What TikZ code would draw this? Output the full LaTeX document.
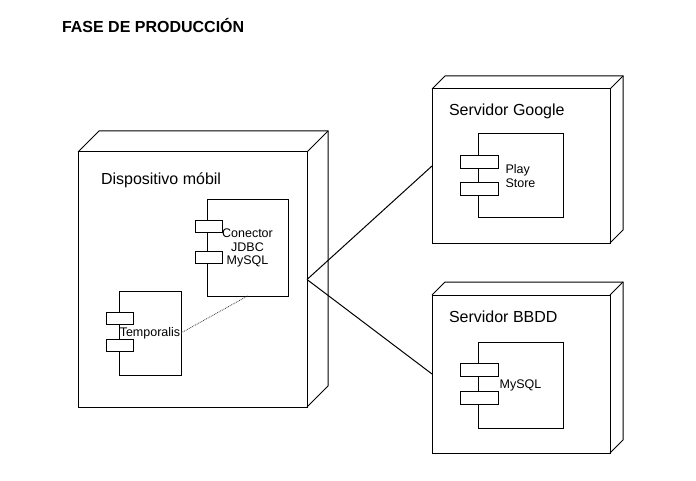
\documentclass[tikz,border=0pt]{standalone}
\usepackage{fontspec}
\setmainfont{Liberation Sans}
\begin{document}
\begin{tikzpicture}[x=1pt,y=-1pt,inner sep=0pt,outer sep=0pt,line width=1pt,
devbox/.style={draw,rectangle,inner sep=0pt},
compbox/.style={draw,rectangle,inner sep=0pt,font=\fontsize{12.5}{13.8}\selectfont},
comptab/.style={draw,rectangle,fill=white,minimum height=12pt},
devlabel/.style={anchor=base west,font=\fontsize{16}{18}\selectfont}]

\useasboundingbox (0,0) rectangle (696,481);

%%% Title
\draw (62,33) node[anchor=base west,font=\fontsize{16}{18}\selectfont\bfseries] (title) {FASE DE PRODUCCIÓN};

%%%%% Deployment nodes (front faces) %%%%%
\draw (192.5,279.5) node[devbox,minimum width=229pt,minimum height=255pt] (dev) {};
\draw (521,166) node[devbox,minimum width=178pt,minimum height=154pt] (goo) {};
\draw (521,374) node[devbox,minimum width=178pt,minimum height=158pt] (bbdd) {};

	%%% Depth of each node
	\foreach \n/\d in {dev/21,goo/13,bbdd/13}{
	\draw (\n.north west) -- ++(\d,-\d) -- ([shift={(\d,-\d)}]\n.north east)
		-- ([shift={(\d,-\d)}]\n.south east) -- (\n.south east);
	\draw (\n.north east) -- ++(\d,-\d);
	}

	%%% Node names
	\draw (101,185) node[devlabel] (devlbl) {Dispositivo móbil};
	\draw (449,116) node[devlabel] (goolbl) {Servidor Google};
	\draw (449,322) node[devlabel] (bbddlbl) {Servidor BBDD};
%%%%%%%%%%%%%%%%%%%%%%%%%

%%% Components
\draw (247.5,248) node[compbox,minimum width=81pt,minimum height=96pt,align=center] (jdbc) {Conector\\JDBC\\MySQL};
\draw (150,333) node[compbox,minimum width=62pt,minimum height=84pt] (temp) {Temporalis};
\draw (520.5,176) node[compbox,minimum width=85pt,minimum height=84pt,align=left] (play) {Play\\Store};
\draw (520.5,385) node[compbox,minimum width=85pt,minimum height=86pt] (mysql) {MySQL};

	%%% Small tabs on the left side
	\draw ([shift={(1.5,27)}]jdbc.north west) node[comptab,minimum width=27pt] (jdbct1) {};
	\draw ([shift={(1.5,57)}]jdbc.north west) node[comptab,minimum width=27pt] (jdbct2) {};
	\draw ([shift={(0.5,27)}]temp.north west) node[comptab,minimum width=27pt] (tempt1) {};
	\draw ([shift={(0.5,54)}]temp.north west) node[comptab,minimum width=27pt] (tempt2) {};
	\draw ([shift={(1,28.5)}]play.north west) node[comptab,minimum width=38pt,minimum height=13pt] (playt1) {};
	\draw ([shift={(1,55.5)}]play.north west) node[comptab,minimum width=38pt,minimum height=13pt] (playt2) {};
	\draw ([shift={(1,28)}]mysql.north west) node[comptab,minimum width=38pt,minimum height=13pt] (mysqlt1) {};
	\draw ([shift={(1,56)}]mysql.north west) node[comptab,minimum width=38pt,minimum height=13pt] (mysqlt2) {};

%%% Connections
\draw (dev.east) -- (goo.west);
\draw (dev.east) -- (bbdd.west);
\draw[densely dotted,line width=0.8pt,black!80] (temp.east) -- (jdbc.south);

\end{tikzpicture}
\end{document}
